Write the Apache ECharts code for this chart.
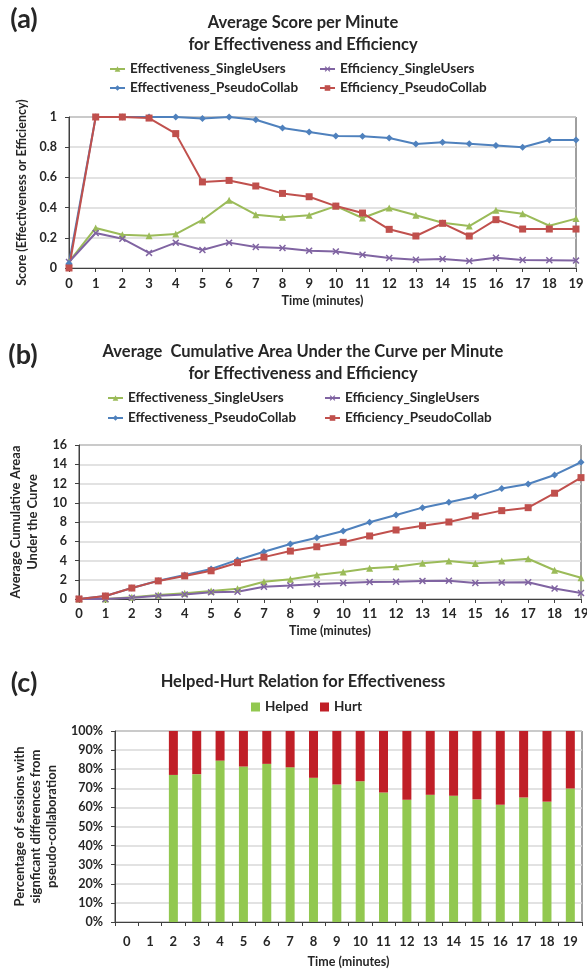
<!DOCTYPE html>
<html><head><meta charset="utf-8">
<script src="https://cdn.jsdelivr.net/npm/echarts@6/dist/echarts.min.js"></script>
<style>html,body{margin:0;padding:0;background:#fff}#c{width:587px;height:970px}</style>
</head><body><div id="c"></div>
<script>
const minutes = ['0','1','2','3','4','5','6','7','8','9','10','11','12','13','14','15','16','17','18','19'];
const nEffSingle = 'Effectiveness_SingleUsers';
const nEffiSingle = 'Efficiency_SingleUsers';
const nEffPseudo = 'Effectiveness_PseudoCollab';
const nEffiPseudo = 'Efficiency_PseudoCollab';

// (a) Average score per minute
const scoreEffSingle = [0.04,0.265,0.22,0.214,0.225,0.318,0.448,0.353,0.336,0.349,0.41,0.331,0.397,0.349,0.30,0.278,0.382,0.36,0.28,0.327];
const scoreEffiSingle = [0.04,0.232,0.194,0.10,0.168,0.119,0.168,0.139,0.132,0.115,0.11,0.088,0.066,0.055,0.06,0.046,0.068,0.053,0.051,0.049];
const scoreEffPseudo = [0.03,1,1,1,1,0.99,1,0.982,0.927,0.90,0.874,0.872,0.861,0.821,0.832,0.823,0.812,0.80,0.848,0.848];
const scoreEffiPseudo = [0,1,1,0.993,0.89,0.57,0.58,0.543,0.494,0.472,0.41,0.364,0.256,0.212,0.296,0.212,0.32,0.258,0.258,0.258];

// (b) Average cumulative area under the curve
const aucEffSingle = [0,0,0.17,0.41,0.59,0.83,1.07,1.79,2.05,2.5,2.81,3.19,3.36,3.72,3.94,3.69,3.95,4.18,2.99,2.2];
const aucEffiSingle = [0,0,0.14,0.34,0.48,0.69,0.76,1.28,1.4,1.56,1.66,1.77,1.8,1.88,1.9,1.67,1.71,1.74,1.09,0.62];
const aucEffPseudo = [0,0.31,1.14,1.9,2.5,3.12,4.06,4.91,5.71,6.37,7.07,7.97,8.73,9.49,10.05,10.64,11.47,11.95,12.89,14.21];
const aucEffiPseudo = [0,0.31,1.14,1.88,2.4,2.93,3.77,4.35,4.98,5.43,5.89,6.55,7.17,7.62,8.0,8.63,9.18,9.49,10.99,12.61];

// (c) Helped-Hurt relation (percent)
const helped = [null,null,77.0,77.4,84.5,81.4,82.8,81.0,75.5,72.0,73.7,67.8,64.0,66.6,66.1,64.2,61.4,65.2,63.0,69.9];
const hurt = [null,null,23.0,22.6,15.5,18.6,17.2,19.0,24.5,28.0,26.3,32.2,36.0,33.4,33.9,35.8,38.6,34.8,37.0,30.1];

const FONT = 'Lato';
const TXT = '#262626';
const AX = '#404040';
const GRIDC = '#d9d9d9';
const C_GREEN = '#9BBB59', C_PURPLE = '#8064A2', C_BLUE = '#4F81BD', C_RED = '#C0504D';
const X_SYM = 'path://M0,1.5L1.5,0L5,3.5L8.5,0L10,1.5L6.5,5L10,8.5L8.5,10L5,6.5L1.5,10L0,8.5L3.5,5Z';

const lbl = (size) => ({fontFamily: FONT, fontWeight: 'bold', fontSize: size, color: TXT});

function lineSeries(name, data, color, symbol, size, idx) {
  return {
    name, type: 'line', data, xAxisIndex: idx, yAxisIndex: idx,
    symbol, symbolSize: size, showSymbol: true,
    lineStyle: {color, width: 2}, itemStyle: {color, borderWidth: 0},
    emphasis: {disabled: true}, animation: false, z: 3
  };
}

function legendItem(name, left, top, icon) {
  const o = {
    data: [name], left, top, padding: 0, itemGap: 0,
    itemWidth: 15, itemHeight: 7,
    textStyle: lbl(13.5), selectedMode: false
  };
  if (icon) { o.icon = icon; o.itemWidth = 9; o.itemHeight = 9; }
  return o;
}

function catX(idx, margin, nameGap, boundary, fs) {
  return {
    type: 'category', gridIndex: idx, data: minutes, boundaryGap: boundary,
    axisLine: {lineStyle: {color: AX, width: 1}},
    axisTick: {show: true, length: 4, inside: false, lineStyle: {color: AX}, alignWithLabel: false},
    axisLabel: Object.assign({margin, interval: 0}, lbl(fs)),
    name: 'Time (minutes)', nameLocation: 'middle', nameGap,
    nameTextStyle: lbl(12.5),
    splitLine: {show: false}
  };
}

function valY(idx, min, max, interval, name, nameGap, fmt, nameSize, lh) {
  return {
    type: 'value', gridIndex: idx, min, max, interval,
    axisLine: {show: true, lineStyle: {color: AX, width: 1}},
    axisTick: {show: true, length: 4, lineStyle: {color: AX}},
    axisLabel: Object.assign({margin: 12, formatter: fmt}, lbl(12.5)),
    splitLine: {show: true, lineStyle: {color: GRIDC, width: 1.5}},
    name, nameLocation: 'middle', nameGap, nameRotate: 90,
    nameTextStyle: Object.assign({lineHeight: lh, align: 'center'}, lbl(nameSize))
  };
}

function textEl(text, x, y, size) {
  return {
    type: 'text', x, y, silent: true,
    style: {text, fill: TXT, font: 'bold ' + size + 'px ' + FONT,
      textAlign: 'center', textVerticalAlign: 'middle', align: 'center', verticalAlign: 'middle'}
  };
}

const chart = echarts.init(document.getElementById('c'), null, {renderer: 'canvas'});
chart.setOption({
  animation: false,
  backgroundColor: '#fff',
  textStyle: {fontFamily: FONT},
  graphic: [
    textEl('(a)', 24, 19, 27),
    textEl('Average Score per Minute', 303, 23, 16.5),
    textEl('for Effectiveness and Efficiency', 303, 45, 16.5),
    textEl('(b)', 23, 355, 27),
    textEl('Average  Cumulative Area Under the Curve per Minute', 303, 352, 16.5),
    textEl('for Effectiveness and Efficiency', 303, 374, 16.5),
    textEl('(c)', 24, 683, 27),
    textEl('Helped-Hurt Relation for Effectiveness', 303, 682, 16.5)
  ],
  legend: [
    legendItem(nEffSingle, 109, 62), legendItem(nEffiSingle, 319, 62),
    legendItem(nEffPseudo, 109, 81), legendItem(nEffiPseudo, 319, 81),
    legendItem(nEffSingle, 107, 391), legendItem(nEffiSingle, 324, 391),
    legendItem(nEffPseudo, 107, 411), legendItem(nEffiPseudo, 324, 411),
    legendItem('Helped', 251, 700, 'rect'), legendItem('Hurt', 320, 700, 'rect')
  ],
  grid: [
    {left: 69, top: 117, width: 507, height: 151, show: true, borderColor: AX, borderWidth: 1, containLabel: false, outerBoundsMode: 'none'},
    {left: 79, top: 445, width: 502, height: 154, show: true, borderColor: AX, borderWidth: 1, containLabel: false, outerBoundsMode: 'none'},
    {left: 115, top: 731, width: 467, height: 191, show: true, borderColor: AX, borderWidth: 1, containLabel: false, outerBoundsMode: 'none'}
  ],
  xAxis: [
    catX(0, 9, 26, false, 13),
    catX(1, 8, 25, false, 13),
    catX(2, 13, 33, true, 13)
  ],
  yAxis: [
    valY(0, 0, 1, 0.2, 'Score (Effectiveness or Efficiency)', 31, null, 12.5, 14),
    valY(1, 0, 16, 2, 'Average Cumulative Areaa\nUnder the Curve', 29, null, 13, 17),
    valY(2, 0, 100, 10, 'Percentage of sessions with\nsignficant differences from\npseudo-collaboration', 43, '{value}%', 13, 16)
  ],
  series: [
    lineSeries(nEffSingle, scoreEffSingle, C_GREEN, 'triangle', 7, 0),
    lineSeries(nEffiSingle, scoreEffiSingle, C_PURPLE, X_SYM, 7, 0),
    lineSeries(nEffPseudo, scoreEffPseudo, C_BLUE, 'diamond', 7, 0),
    lineSeries(nEffiPseudo, scoreEffiPseudo, C_RED, 'rect', 7, 0),
    lineSeries(nEffSingle, aucEffSingle, C_GREEN, 'triangle', 7, 1),
    lineSeries(nEffiSingle, aucEffiSingle, C_PURPLE, X_SYM, 7, 1),
    lineSeries(nEffPseudo, aucEffPseudo, C_BLUE, 'diamond', 7, 1),
    lineSeries(nEffiPseudo, aucEffiPseudo, C_RED, 'rect', 7, 1),
    {name: 'Helped', type: 'bar', stack: 'hh', data: helped, xAxisIndex: 2, yAxisIndex: 2,
     barWidth: 9, itemStyle: {color: '#92C850'}, emphasis: {disabled: true}},
    {name: 'Hurt', type: 'bar', stack: 'hh', data: hurt, xAxisIndex: 2, yAxisIndex: 2,
     barWidth: 9, itemStyle: {color: '#C01F27'}, emphasis: {disabled: true}}
  ]
});
</script>
</body></html>
